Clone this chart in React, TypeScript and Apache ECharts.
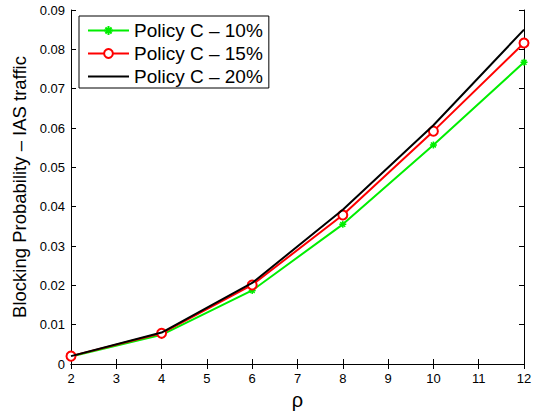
import React, { useEffect, useRef } from "react";
import * as echarts from "echarts";

const rho = [2, 4, 6, 8, 10, 12];
const policy10 = [0.0019, 0.0074, 0.0187, 0.0355, 0.0557, 0.0767];
const policy15 = [0.002, 0.0078, 0.0201, 0.0379, 0.0592, 0.0816];
const policy20 = [0.002, 0.008, 0.0206, 0.0392, 0.0607, 0.085];
const seriesNames = ["Policy C – 10%", "Policy C – 15%", "Policy C – 20%"];
const yTickLabels = ["0", "0.01", "0.02", "0.03", "0.04", "0.05", "0.06", "0.07", "0.08", "0.09"];

const FONT = "Liberation Sans, Arial, Helvetica, sans-serif";
const ASTERISK = "path://M0,-10L0,10M-10,0L10,0M-7,-7L7,7M-7,7L7,-7";

export default function App() {
  const ref = useRef<HTMLDivElement>(null);
  useEffect(() => {
    if (!ref.current) return;
    const chart = echarts.init(ref.current, undefined, { renderer: "svg" });
    const pts = (arr: number[]) => rho.map((x, i) => [x, arr[i]]);
    const axisCommon = {
      type: "value" as const,
      axisLine: { show: true, lineStyle: { color: "#000", width: 1 } },
      axisTick: { show: true, inside: true, length: 5, lineStyle: { color: "#000" } },
      splitLine: { show: false },
    };
    chart.setOption({
      animation: false,
      backgroundColor: "#fff",
      grid: { left: 71, right: 13, top: 10, bottom: 48, containLabel: false },
      xAxis: [
        {
          ...axisCommon,
          position: "bottom",
          min: 2,
          max: 12,
          interval: 1,
          name: "ρ",
          nameLocation: "middle",
          nameGap: 26,
          nameTextStyle: { fontFamily: FONT, fontSize: 20, color: "#000" },
          axisLabel: { fontFamily: FONT, fontSize: 13, color: "#000", margin: 8 },
        },
        {
          ...axisCommon,
          position: "top",
          min: 2,
          max: 12,
          interval: 1,
          axisLabel: { show: false },
        },
      ],
      yAxis: [
        {
          ...axisCommon,
          position: "left",
          min: 0,
          max: 0.09,
          interval: 0.01,
          name: "Blocking Probability – IAS traffic",
          nameLocation: "middle",
          nameGap: 38,
          nameTextStyle: { fontFamily: FONT, fontSize: 18.5, color: "#000", padding: [0, 0, 0, 0] },
          axisLabel: {
            fontFamily: FONT,
            fontSize: 13,
            color: "#000",
            margin: 6,
            formatter: (v: number) => yTickLabels[Math.round(v * 100)] ?? "",
          },
        },
        {
          ...axisCommon,
          position: "right",
          min: 0,
          max: 0.09,
          interval: 0.01,
          axisLabel: { show: false },
        },
      ],
      legend: {
        left: 79,
        top: 16,
        orient: "vertical",
        padding: [5, 6, 2, 8],
        borderColor: "#000",
        borderWidth: 1,
        borderRadius: 0,
        backgroundColor: "#fff",
        itemWidth: 41,
        itemHeight: 11,
        itemGap: 4,
        textStyle: { fontFamily: FONT, fontSize: 19, color: "#000" },
        data: [
          { name: seriesNames[0] },
          { name: seriesNames[1] },
          { name: seriesNames[2], itemStyle: { opacity: 0 } },
        ],
      },
      series: [
        {
          name: seriesNames[0],
          type: "line",
          data: pts(policy10),
          symbol: ASTERISK,
          symbolSize: 7,
          itemStyle: { color: "#00ee00", borderColor: "#00ee00", borderWidth: 1.5 },
          lineStyle: { color: "#00ee00", width: 2 },
          z: 2,
        },
        {
          name: seriesNames[1],
          type: "line",
          data: pts(policy15),
          symbol: "emptyCircle",
          symbolSize: 9,
          itemStyle: { color: "#ff0000", borderColor: "#ff0000", borderWidth: 1.8 },
          lineStyle: { color: "#ff0000", width: 2 },
          z: 3,
        },
        {
          name: seriesNames[2],
          type: "line",
          data: pts(policy20),
          symbol: "none",
          itemStyle: { color: "#000" },
          lineStyle: { color: "#000", width: 2 },
          z: 4,
        },
      ],
    });
    return () => chart.dispose();
  }, []);
  return <div ref={ref} style={{ width: 537, height: 415, position: "absolute", left: 0, top: 0 }} />;
}
